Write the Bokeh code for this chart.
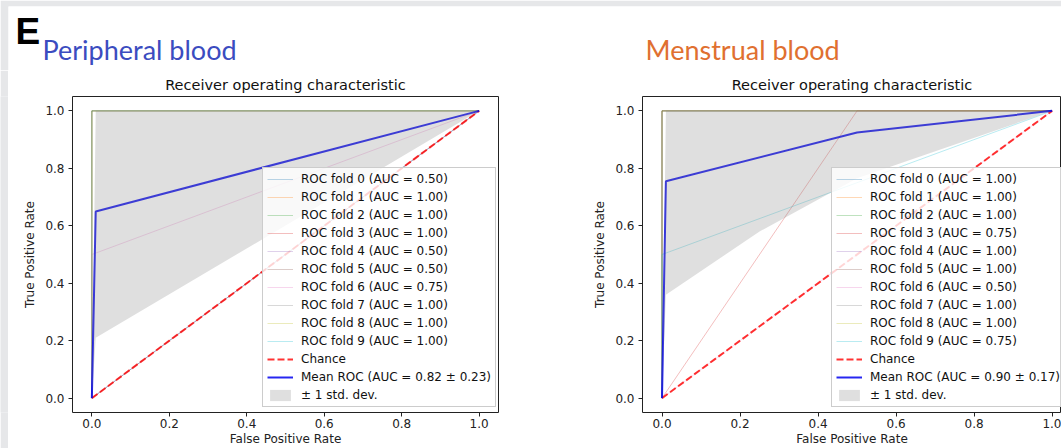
from bokeh.plotting import figure
from bokeh.models import Label, Legend, LegendItem, Range1d, SingleIntervalTicker, PrintfTickFormatter
from bokeh.layouts import row, column
from bokeh.embed import file_html
from bokeh.resources import INLINE

# ---------------- data ----------------
fold_colors = ["#1f77b4", "#ff7f0e", "#2ca02c", "#d62728", "#9467bd",
               "#8c564b", "#e377c2", "#7f7f7f", "#bcbd22", "#17becf"]

# Peripheral blood
pb_fold_fpr = [[0, 1], [0, 0, 1], [0, 0, 1], [0, 0, 1], [0, 1],
               [0, 1], [0, 0, 1], [0, 0, 1], [0, 0, 1], [0, 0, 1]]
pb_fold_tpr = [[0, 1], [0, 1, 1], [0, 1, 1], [0, 1, 1], [0, 1],
               [0, 1], [0, 0.5, 1], [0, 1, 1], [0, 1, 1], [0, 1, 1]]
pb_fold_auc = [0.50, 1.00, 1.00, 1.00, 0.50, 0.50, 0.75, 1.00, 1.00, 1.00]
pb_mean_fpr = [0.0, 0.01, 1.0]
pb_mean_tpr = [0.0, 0.65, 1.0]
pb_mean_auc = 0.82
pb_std_auc = 0.23
pb_band_fpr = [0.0, 0.01, 1.0]
pb_band_lower = [0.0, 0.21, 1.0]
pb_band_upper = [0.0, 1.0, 1.0]

# Menstrual blood
mb_fold_fpr = [[0, 0, 1], [0, 0, 1], [0, 0, 1], [0, 0.5, 1], [0, 0, 1],
               [0, 0, 1], [0, 1], [0, 0, 1], [0, 0, 1], [0, 0, 1]]
mb_fold_tpr = [[0, 1, 1], [0, 1, 1], [0, 1, 1], [0, 1, 1], [0, 1, 1],
               [0, 1, 1], [0, 1], [0, 1, 1], [0, 1, 1], [0, 0.5, 1]]
mb_fold_auc = [1.00, 1.00, 1.00, 0.75, 1.00, 1.00, 0.50, 1.00, 1.00, 0.75]
mb_mean_fpr = [0.0, 0.01, 0.5, 1.0]
mb_mean_tpr = [0.0, 0.755, 0.925, 1.0]
mb_mean_auc = 0.90
mb_std_auc = 0.17
mb_band_fpr = [0.0, 0.01, 0.25, 0.5, 1.0]
mb_band_lower = [0.0, 0.36, 0.58, 0.765, 1.0]
mb_band_upper = [0.0, 1.0, 1.0, 1.0, 1.0]

chance_x = [0, 1]
chance_y = [0, 1]

FONT = "DejaVu Sans"
GRAY = "#e6e7e9"


def make_fig(width, min_left, min_right, x_end, fold_fpr, fold_tpr, fold_auc,
             mean_fpr, mean_tpr, mean_auc, std_auc, band_fpr, band_lower, band_upper,
             legend_x):
    p = figure(width=width, height=378,
               x_range=Range1d(-0.05, x_end), y_range=Range1d(-0.05, 1.05),
               output_backend="svg", toolbar_location=None,
               min_border_left=min_left, min_border_right=min_right,
               min_border_top=26, min_border_bottom=0,
               background_fill_color="white", border_fill_color="white")
    p.title.text = "Receiver operating characteristic"
    p.title.align = "center"
    p.title.text_font = FONT
    p.title.text_font_size = "14.5px"
    p.title.text_font_style = "normal"
    p.title.text_color = "#111111"
    p.title.standoff = 8
    p.grid.visible = False
    p.outline_line_color = "#222222"
    p.outline_line_width = 1
    p.outline_line_alpha = 1

    for ax in (p.xaxis[0], p.yaxis[0]):
        ax.ticker = SingleIntervalTicker(interval=0.2, num_minor_ticks=0)
        ax.formatter = PrintfTickFormatter(format="%.1f")
        ax.axis_line_color = None
        ax.major_tick_out = 4
        ax.major_tick_in = 0
        ax.major_tick_line_color = "#222222"
        ax.minor_tick_line_color = None
        ax.major_label_text_font = FONT
        ax.major_label_text_font_size = "12px"
        ax.major_label_text_color = "#222222"
        ax.axis_label_text_font = FONT
        ax.axis_label_text_font_size = "12px"
        ax.axis_label_text_font_style = "normal"
        ax.axis_label_text_color = "#222222"
    p.xaxis.major_label_standoff = 2
    p.xaxis.axis_label_standoff = 1
    p.yaxis.major_label_standoff = 4
    p.yaxis.axis_label_standoff = 5
    p.xaxis.axis_label = "False Positive Rate"
    p.yaxis.axis_label = "True Positive Rate"

    items = []
    for i in range(len(fold_fpr)):
        r = p.line(fold_fpr[i], fold_tpr[i], line_color=fold_colors[i],
                   line_alpha=0.3, line_width=1)
        items.append(LegendItem(label="ROC fold %d (AUC = %.2f)" % (i, fold_auc[i]),
                                renderers=[r]))
    rc = p.line(chance_x, chance_y, line_color="red", line_alpha=0.8,
                line_width=2, line_dash="7 3")
    items.append(LegendItem(label="Chance", renderers=[rc]))
    rm = p.line(mean_fpr, mean_tpr, line_color="#0000ee", line_alpha=0.85, line_width=2)
    items.append(LegendItem(label="Mean ROC (AUC = %.2f \u00b1 %.2f)" % (mean_auc, std_auc),
                            renderers=[rm]))
    rb = p.varea(x=band_fpr, y1=band_lower, y2=band_upper,
                 fill_color="grey", fill_alpha=0.25)
    items.append(LegendItem(label="\u00b1 1 std. dev.", renderers=[rb]))

    legend = Legend(items=items, location=(legend_x, 5))
    legend.label_text_font = FONT
    legend.label_text_font_size = "12px"
    legend.label_text_color = "#111111"
    legend.glyph_width = 26
    legend.glyph_height = 14
    legend.label_height = 14
    legend.label_standoff = 8
    legend.spacing = 4
    legend.padding = 4
    legend.margin = 0
    legend.border_line_color = "#cccccc"
    legend.border_line_alpha = 1
    legend.background_fill_alpha = 0.8
    p.add_layout(legend)
    return p


def blank(width, height, left=0, top=0):
    b = figure(width=width, height=height, output_backend="svg", toolbar_location=None,
               x_axis_location=None, y_axis_location=None,
               x_range=Range1d(0, 1), y_range=Range1d(0, 1),
               min_border_left=left, min_border_top=top,
               min_border_right=0, min_border_bottom=0,
               background_fill_color="white" if (left or top) else GRAY,
               border_fill_color=GRAY)
    b.outline_line_color = None
    b.grid.visible = False
    return b


header = blank(1061, 70, left=8, top=6)
header.add_layout(Label(x=7, y=39, x_units="screen", y_units="screen", text="E",
                        text_font="Liberation Sans", text_font_size="37px",
                        text_font_style="bold", text_color="black",
                        text_baseline="alphabetic"))
header.add_layout(Label(x=34, y=21, x_units="screen", y_units="screen",
                        text="Peripheral blood", text_font="Lato", text_font_size="27px",
                        text_color="#3b4cc0", text_baseline="alphabetic"))
header.add_layout(Label(x=637, y=21, x_units="screen", y_units="screen",
                        text="Menstrual blood", text_font="Lato", text_font_size="27px",
                        text_color="#e07030", text_baseline="alphabetic"))

strip = blank(8, 378)

left = make_fig(560, 64, 70, 1.05, pb_fold_fpr, pb_fold_tpr, pb_fold_auc,
                pb_mean_fpr, pb_mean_tpr, pb_mean_auc, pb_std_auc,
                pb_band_fpr, pb_band_lower, pb_band_upper, 190)
right = make_fig(493, 74, 0, 1.024, mb_fold_fpr, mb_fold_tpr, mb_fold_auc,
                 mb_mean_fpr, mb_mean_tpr, mb_mean_auc, mb_std_auc,
                 mb_band_fpr, mb_band_lower, mb_band_upper, 189)

p = column(header, row(strip, left, right))
open("out.html", "w").write(file_html(p, INLINE))
